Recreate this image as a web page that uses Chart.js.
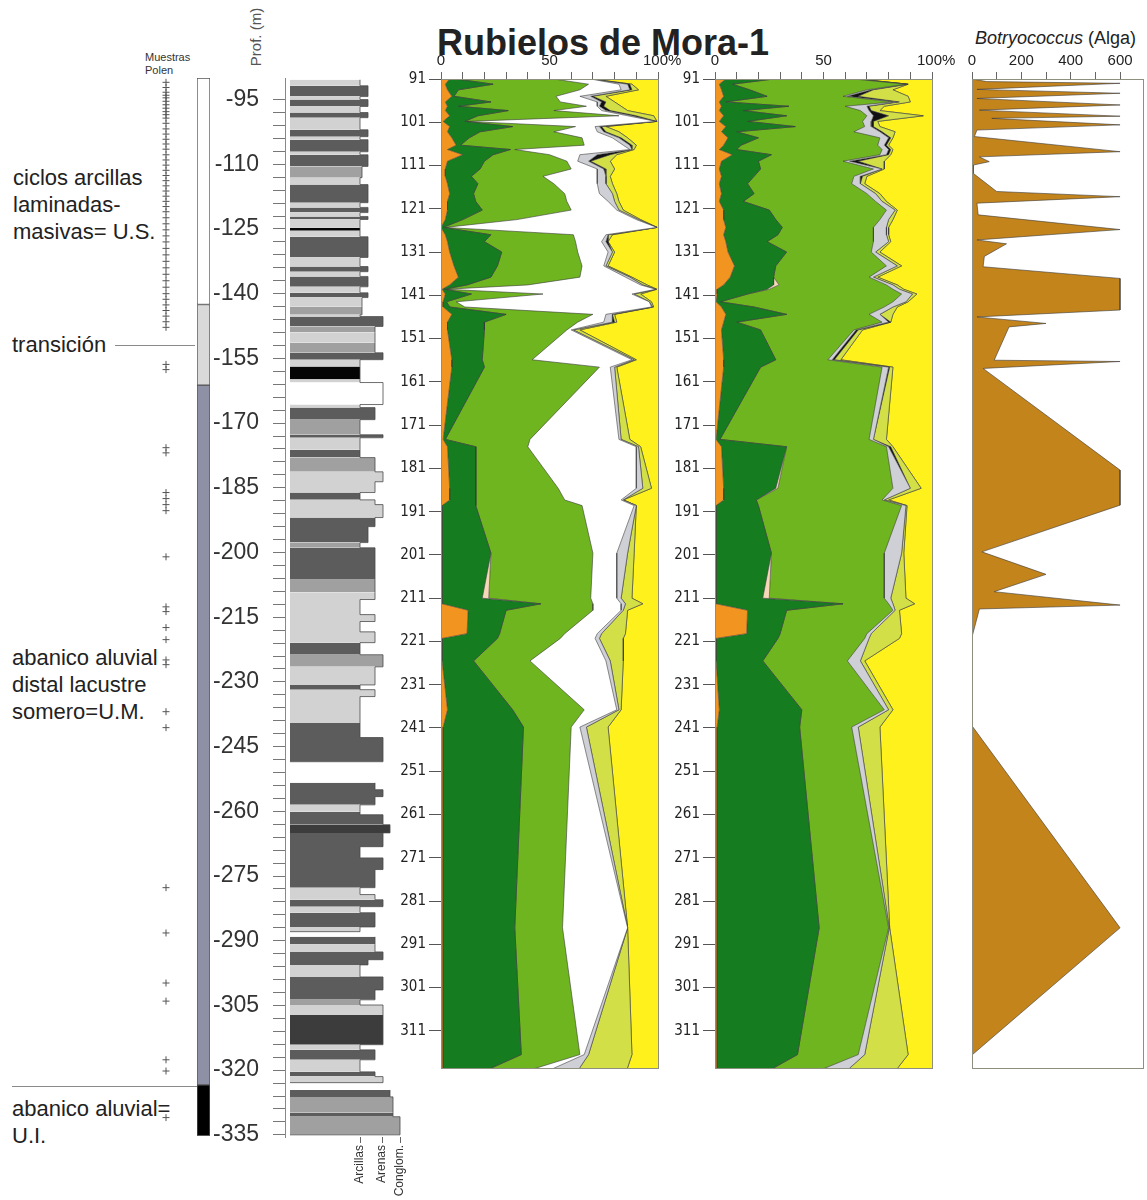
<!DOCTYPE html>
<html lang="es">
<head>
<meta charset="utf-8">
<title>Rubielos de Mora-1</title>
<script src="https://cdn.jsdelivr.net/npm/chart.js@4.4.1/dist/chart.umd.min.js"></script>
<style>
  html, body { margin: 0; padding: 0; background: #fff; }
  body { position: relative; width: 1147px; height: 1200px; overflow: hidden; font-family: "Liberation Sans", Arial, sans-serif; color: #222; }
  canvas { position: absolute; }
  .txt { position: absolute; white-space: nowrap; }
  .rule { position: absolute; height: 0; border-top: 1px solid #8a8a8a; }
</style>
</head>
<body>
<div class="txt" style="left:437px;top:25px;font-size:36px;line-height:36px;font-weight:bold;">Rubielos de Mora-1</div>
<div class="txt" style="left:975px;top:28px;font-size:18px;line-height:20px;"><i>Botryococcus</i> (Alga)</div>
<div class="txt" style="left:145px;top:51px;font-size:11px;line-height:13px;color:#333;">Muestras<br>Polen</div>
<div class="txt" style="left:216px;top:28px;width:80px;height:18px;font-size:15px;line-height:18px;text-align:center;color:#555;transform:rotate(-90deg);">Prof. (m)</div>

<div class="txt" style="left:13px;top:164px;font-size:22px;line-height:27px;">ciclos arcillas<br>laminadas-<br>masivas= U.S.</div>
<div class="txt" style="left:12px;top:331px;font-size:22px;line-height:27px;">transición</div>
<div class="rule" style="left:115px;top:345px;width:80px;"></div>
<div class="txt" style="left:12px;top:644px;font-size:22px;line-height:27px;">abanico aluvial<br>distal lacustre<br>somero=U.M.</div>
<div class="rule" style="left:12px;top:1086px;width:185px;"></div>
<div class="txt" style="left:12px;top:1095px;font-size:22px;line-height:27px;">abanico aluvial=<br>U.I.</div>

<canvas id="muestras" width="50" height="1200" style="left:141px;top:0"></canvas>
<canvas id="zonas" width="30" height="1200" style="left:190px;top:0"></canvas>
<canvas id="litologia" width="220" height="1200" style="left:200px;top:0"></canvas>
<canvas id="polen1" width="290" height="1035" style="left:401px;top:45px"></canvas>
<canvas id="polen2" width="290" height="1035" style="left:675px;top:45px"></canvas>
<canvas id="botryo" width="197" height="1035" style="left:950px;top:45px"></canvas>

<script>
// ---- profundidad de las muestras de polen (m) ----
const polDepth = [91.0, 92.2, 93.5, 95.0, 96.3, 97.3, 98.3, 99.5, 100.8, 102.0,
  103.2, 104.6, 106.3, 107.3, 108.5, 110.0, 111.8, 113.5, 115.2, 117.5,
  119.3, 121.3, 123.5, 125.3, 127.0, 128.6, 131.0, 134.2, 136.8, 138.6,
  139.6, 140.7, 142.5, 143.7, 145.4, 147.2, 149.0, 155.9, 157.6, 174.3,
  176.0, 185.6, 188.3, 189.6, 200.6, 211.0, 212.3, 213.8, 219.2, 220.3,
  225.5, 236.8, 240.8, 287.2, 316.5, 321.0];

// diagrama 1: límites acumulados (%)
const c1Orange = [4,2,3,5,2,3,2,4,1,4, 3,5,7,3,10,3,2,2,3,4, 3,3,2,0,2,3,4,6,8,4,
  0.5,2,1,1,5,3,3,5,5,1, 3,4,4,0.5,0.5,0.5,0.5,12.5,12,0.5, 0.5,3,1,1,1,1];
const c1DarkGreen = [7,24,8,6,23,8,31,17,11,33, 18,13,9,32,24,20,18,14,17,15, 16,19,10,1,23,20,28,26,23,12,
  1.5,14,2.5,4,30,20,20,19,20,2, 16,16,16,16,23,19,46,30,27,26, 15,33,38,34,37,17];
const c1Beige = [7,24,8,6,23,8,31,17,11,33, 18,13,9,32,24,20,18,14,17,15, 16,19,10,1,23,20,28,26,23,12,
  1.5,14,2.5,4,30,20,20,19,20,2, 16,16,16,16,23,22,46,30,27,26, 15,33,38,34,37,17];
const c1LightGreen = [52,68,64,53,55,67,52,82,12,62, 52,65,66,34,50,58,60,47,52,57, 58,60,35,2,61,62,63,65,64,40,
  2.5,47,7,11,70,63,58,42,73,41, 40,54,57,65,70,69,70,70,57,55, 41,66,60,56,64,35];
const c1White = [69,82,83,64,72,72,74,86,99,71, 72,79,84,87,64,63,72,72,72,73, 77,81,90,99.5,76,74,77,75,85,92,
  99,88,96,97,76,75,60,88,78,82, 90,90,83,89,81,81,83,83,72,71, 76,81,64,86,66,46];
const c1Gray = [69,86,87,69,74,73,76,88,99,73, 75,82,87,88,72,68,75,76,76,79, 80,82,91,99.5,77,76,79,76,87,93,
  99,89,96,97.5,79,79,61,89,80,83, 91,93,84,90,86,83,85,84,74,73, 78,82,67,86,68,62];
const c1Black = [69,87,88,70,76,75,78,90,99.5,74, 76,83,88,88,78,69,76,76,76,79, 80,82,91,99.5,77,77,79,76,87,93,
  99,89,96,97.5,79,80,61,89,80,83, 91,93,84,90,86,83,85,84,74,73, 78,82,67,86,68,62];
const c1YellowGreen = [70,88,91,76,80,83,86,98,99.5,76, 82,86,90,89,81,78,80,78,79,81, 82,84,92,99.6,79,77,80,77,88,95,
  99.5,92,97,98,80,81,64,90,81,87, 92,97,84,90,89,88,93,86,85,84, 84,83,77,86,88,85];

// diagrama 2: límites acumulados (%)
const c2Orange = [5,2,3,4,2,3,2,4,2,5, 3,6,4,2,8,3,2,3,2,3, 2,4,4,5,4,5,6,9,7,4,
  1,1,0.5,3,5,4,3,4,4,0.5, 3,4,4,0.5,0.5,0.5,0.5,15,14.6,0.5, 0.5,2,1,1,1,1];
const c2DarkGreen = [27,8,16,24,5,34,13,33,15,37, 10,20,12,10,26,20,21,18,15,18, 13,25,28,31,29,24,33,28,27,27,
  24,15,2.5,18,33,10,21,28,21,2.3, 33,28,19,20,26,22,59,33,30,29, 22,40,39,48,38,22];
const c2Beige = [27,8,16,24,5,34,13,33,15,37, 10,20,12,10,26,20,21,18,15,18, 13,25,28,31,29,24,33,28,27,29.5,
  25,15,2.5,18,33,10,21,28,21,2.3, 33,29,19,20,26,25,59,33,30,29, 22,40,39,48,38,22];
const c2LightGreen = [64,88,70,59,82,60,67,70,68,69, 64,76,75,77,76,59,73,64,63,70, 74,79,76,73,73,73,72,79,71,79,
  82,86,82,78,71,77,64,52,77,71, 79,82,77,86,78,78,80,82,70,69, 61,78,63,80,66,44];
const c2Gray = [65,88.5,72,61,84,70,71,73,72,72, 76,80,78,80,79,62,77,67,67,74, 77,83,80,79,79,80,74,84,73,82,
  85,91,88,82,76,80,65,54,80,73, 80,90,78,88,86,81,82,83,72,71, 67,80,66,80.3,69,59];
const c2Black = [65,89,73,66,85,71,72,80,73,73, 77,81,79,81,80,66,77,68,67,74, 77,83,80,79,79,80,74,84,73,82,
  85,91,88,82,76,81,66,55,80.5,73, 81,90,78,88,86,81,82,83,72,71, 67,80,66,80.3,69,59];
const c2YellowGreen = [66,89,82,89,90,78,76,96,75,76, 83,82,80,82,81,78,78,70,69,76, 79,84,82,80,80,81,76,86,75,84,
  87,93,89,84,82,81,68,58,82,79, 82,95,80,88.5,87,88,92,85,86,85, 69,82,76,80.5,89,82];

// Botryococcus (nº de colonias)
const botDepth = [91, 91.6, 92.0, 93.4, 94.3, 95.5, 97.0, 98.2, 99.6, 100.1,
  101.6, 102.8, 104.3, 107.8, 109.0, 110.1, 110.9, 112.8, 117.0, 118.2,
  119.7, 122.4, 125.8, 128.2, 129.1, 132.0, 134.4, 137.1, 144.4, 146.0,
  147.5, 148.3, 156.0, 156.3, 157.9, 181.4, 189.5, 200.3, 205.5, 209.5,
  212.6, 213.5, 220.0, 240.5, 287.2, 316.6, 321.0];
const botVal = [0, 60, 600, 20, 600, 20, 600, 30, 600, 80,
  600, 20, 10, 600, 30, 70, 5, 5, 100, 600,
  20, 25, 600, 20, 140, 50, 45, 600, 600, 20,
  300, 150, 90, 600, 45, 600, 600, 40, 300, 90,
  600, 30, 0, 0, 600, 0, 0];

// ejes
const depthTicks = [91,101,111,121,131,141,151,161,171,181,191,201,211,221,231,241,251,261,271,281,291,301,311];
const pctTicks = [0,10,20,30,40,50,60,70,80,90,100];
const pctLabels = ['0','','','','','50','','','','','100%'];
const botTicks = [0,100,200,300,400,500,600];
const botLabels = ['0','','200','','400','','600'];
const profLabels = [-95,-110,-125,-140,-155,-170,-185,-200,-215,-230,-245,-260,-275,-290,-305,-320,-335];

// litología: techo de cada capa (m), tamaño de grano y facies
const litTop = [-90.4,-91.8,-94.3,-95.0,-96.6,-98.0,-99.2,-102.0,-103.6,-104.3,
  -107.1,-107.8,-110.5,-113.1,-114.7,-118.9,-120.0,-121.2,-122.1,-122.8,
  -124.7,-125.4,-126.8,-131.6,-133.7,-134.9,-136.0,-138.4,-139.8,-140.9,
  -143.0,-144.9,-145.3,-147.6,-149.0,-151.4,-153.7,-155.3,-156.9,-159.9,
  -160.6,-165.7,-166.4,-169.2,-172.7,-173.4,-176.2,-178.0,-181.3,-183.6,
  -186.1,-187.8,-188.9,-191.9,-194.0,-197.7,-198.9,-206.3,-209.3,-210.9,
  -214.4,-216.0,-218.4,-220.9,-223.7,-226.5,-230.7,-231.8,-233.4,-239.5,
  -242.9,-248.5,-253.4,-255.0,-256.6,-258.5,-260.1,-260.8,-263.1,-265.0,
  -268.2,-270.8,-273.5,-277.7,-279.3,-280.5,-282.1,-283.5,-286.8,-287.9,
  -289.1,-290.9,-292.6,-294.4,-295.6,-298.4,-301.4,-303.7,-304.9,-307.2,
  -314.1,-315.3,-317.6,-320.4,-321.5,-322.9,-324.6,-326.2,-329.9,-330.8,
  -335.0];
const litGrain = [70,78,70,78,70,78,70,78,70,78,
  70,78,72,70,78,70,78,70,78,70,
  70,70,78,70,78,70,78,70,78,72,
  72,70,93,85,85,85,93,70,70,70,
  93,70,85,70,93,70,70,85,93,85,
  70,85,93,85,78,70,85,85,85,70,
  85,70,85,70,93,85,70,85,70,70,
  93,0,85,93,85,70,70,93,100,93,
  70,93,85,70,85,93,70,85,70,0,
  85,85,93,78,70,93,85,70,93,93,
  70,85,70,85,93,0,100,103,103,110,
  0];
// 0 hueco, 1 blanco, 2 gris claro, 3 gris medio, 4 gris oscuro, 5 muy oscuro, 6 negro
const litFacies = [2,4,2,4,2,4,2,4,2,4,
  2,4,3,2,4,2,4,2,4,2,
  6,2,4,2,4,2,4,2,4,2,
  3,2,4,3,2,3,4,2,6,2,
  1,2,4,3,4,2,4,3,2,2,
  4,2,2,4,4,3,4,3,2,2,
  2,2,2,4,3,2,4,2,2,4,
  4,0,4,4,4,2,4,4,5,4,
  4,4,4,2,2,4,2,4,2,0,
  4,2,4,4,2,4,4,3,2,5,
  2,4,2,4,2,0,4,3,4,3,
  0];
const grainTicks = [70, 92, 110];
const grainLabels = ['Arcillas', 'Arenas', 'Conglom.'];

// unidades
const zoneTop = [-90, -142.5, -161.2, -323.4];
const zoneBase = [-142.5, -161.2, -323.4, -335.2];

// muestras de polen
const polenSamples = [-91.0,-92.2,-93.3,-94.0,-94.6,-95.4,-96.2,-97.0,-97.8,-98.5,
  -99.3,-100.5,-101.8,-103.0,-104.2,-105.3,-106.5,-107.8,-109.0,-110.2,
  -111.4,-112.6,-113.8,-115.0,-116.2,-117.4,-118.6,-119.8,-121.0,-122.4,
  -123.8,-125.2,-126.6,-128.0,-129.5,-131.0,-132.5,-134.0,-135.5,-137.0,
  -138.5,-140.0,-141.3,-142.6,-143.9,-145.2,-146.5,-147.8,-156.4,-157.6,
  -175.7,-176.9,-186.1,-187.5,-188.9,-190.3,-201.0,-212.6,-213.7,-217.4,
  -220.2,-224.9,-226.0,-236.9,-240.6,-277.7,-288.2,-299.8,-304.0,-317.6,
  -320.2,-331.0];

// ---- estilos ----
const COL = {
  orange: '#f29420', darkGreen: '#167c20', beige: '#f5d8b8', lightGreen: '#6fb51f',
  white: '#ffffff', gray: '#cfd0d6', black: '#111111', yellowGreen: '#d3df46', yellow: '#fff21c'
};
const faciesColor = ['rgba(0,0,0,0)', '#ffffff', '#d2d2d2', '#a0a0a0', '#5c5c5c', '#3c3c3c', '#050505'];
const zoneFill = ['#ffffff', '#d9d9d9', '#8e90a6', '#000000'];
const narrow = "'Liberation Sans Narrow', 'DejaVu Sans Condensed', 'Liberation Sans', sans-serif";
const frameColor = '#8f8f80';

Chart.defaults.font.family = "'Liberation Sans', Arial, sans-serif";
Chart.defaults.font.size = 14;
Chart.defaults.color = '#222';
Chart.defaults.animation = false;
Chart.defaults.events = [];
Chart.defaults.plugins.legend.display = false;
Chart.defaults.plugins.tooltip.enabled = false;

function frameAxis(pos) {
  return {
    type: 'linear', position: pos, display: true,
    grid: { display: false }, ticks: { display: false },
    border: { display: true, color: frameColor, width: 1, z: 1 },
    afterFit: s => { if (s.isHorizontal()) s.height = 0; else s.width = 0; }
  };
}

function pollenChart(id, edges, colors) {
  const datasets = edges.map((edge, i) => ({
    data: polDepth.map((d, k) => ({ x: edge[k], y: d })),
    backgroundColor: colors[i],
    fill: i === 0 ? 'origin' : '-1'
  }));
  // amarillo: del último límite al 100 %
  const last = edges[edges.length - 1];
  datasets.push({
    data: polDepth.map((d, k) => ({ x: last[k], y: d })),
    backgroundColor: COL.yellow,
    fill: { value: 100 }
  });

  new Chart(document.getElementById(id), {
    type: 'line',
    data: { datasets },
    options: {
      responsive: false,
      indexAxis: 'y',
      layout: { padding: { right: 33, bottom: 12 } },
      elements: {
        point: { radius: 0 },
        line: { tension: 0, borderWidth: 0.6, borderColor: '#3a3a3a' }
      },
      scales: {
        x: {
          type: 'linear', position: 'top', min: 0, max: 100,
          afterBuildTicks: s => { s.ticks = pctTicks.map(v => ({ value: v })); },
          ticks: {
            autoSkip: false, maxRotation: 0, padding: 2, font: { size: 15 },
            callback: (v, i) => i === pctTicks.length - 1 ? '\u00a0\u00a0' + pctLabels[i] : pctLabels[i]
          },
          grid: { drawOnChartArea: false, tickLength: 7, color: '#666' },
          border: { color: frameColor, z: 1 },
          afterFit: s => { s.height = 34; }
        },
        y: {
          type: 'linear', reverse: true, min: 91, max: 319.6,
          afterBuildTicks: s => { s.ticks = depthTicks.map(v => ({ value: v })); },
          ticks: { autoSkip: false, padding: 3, font: { family: narrow, size: 15 } },
          grid: { drawOnChartArea: false, tickLength: 12, color: '#555' },
          border: { color: frameColor, z: 1 },
          afterFit: s => { s.width = 40; }
        },
        x2: frameAxis('bottom'),
        y2: frameAxis('right')
      }
    }
  });
}

pollenChart('polen1',
  [c1Orange, c1DarkGreen, c1Beige, c1LightGreen, c1White, c1Gray, c1Black, c1YellowGreen],
  [COL.orange, COL.darkGreen, COL.beige, COL.lightGreen, COL.white, COL.gray, COL.black, COL.yellowGreen]);

pollenChart('polen2',
  [c2Orange, c2DarkGreen, c2Beige, c2LightGreen, c2Gray, c2Black, c2YellowGreen],
  [COL.orange, COL.darkGreen, COL.beige, COL.lightGreen, COL.gray, COL.black, COL.yellowGreen]);

// Botryococcus
new Chart(document.getElementById('botryo'), {
  type: 'line',
  data: { datasets: [{
    data: botDepth.map((d, k) => ({ x: botVal[k], y: d })),
    backgroundColor: '#c4841c', borderColor: '#3a3a3a', borderWidth: 0.6,
    fill: 'origin', pointRadius: 0, tension: 0
  }] },
  options: {
    responsive: false,
    indexAxis: 'y',
    layout: { padding: { right: 4, bottom: 12 } },
    scales: {
      x: {
        type: 'linear', position: 'top', min: 0, max: 693,
        afterBuildTicks: s => { s.ticks = botTicks.map(v => ({ value: v })); },
        ticks: { autoSkip: false, maxRotation: 0, padding: 2, font: { size: 15 }, callback: (v, i) => botLabels[i] },
        grid: { drawOnChartArea: false, tickLength: 7, color: '#666' },
        border: { color: frameColor, z: 1 },
        afterFit: s => { s.height = 34; }
      },
      y: {
        type: 'linear', reverse: true, min: 91, max: 319.6,
        ticks: { display: false }, grid: { display: false },
        border: { color: frameColor, z: 1 },
        afterFit: s => { s.width = 22; }
      },
      x2: frameAxis('bottom'),
      y2: frameAxis('right')
    }
  }
});

// Litología y eje de profundidad
new Chart(document.getElementById('litologia'), {
  type: 'line',
  data: { datasets: [{
    data: litTop.map((d, i) => ({ x: litGrain[i], y: d })),
    stepped: 'after', fill: 'origin', tension: 0, pointRadius: 0,
    backgroundColor: '#a0a0a0', borderColor: '#4a4a4a', borderWidth: 0.8,
    segment: {
      backgroundColor: c => faciesColor[litFacies[c.p0DataIndex]],
      borderColor: c => litFacies[c.p0DataIndex] === 0 ? 'rgba(0,0,0,0)' : '#4a4a4a'
    }
  }] },
  options: {
    responsive: false,
    indexAxis: 'y',
    layout: { padding: { top: 78, right: 12 } },
    scales: {
      x: {
        type: 'linear', position: 'bottom', min: -5, max: 118,
        afterBuildTicks: s => { s.ticks = grainTicks.map(v => ({ value: v })); },
        ticks: { autoSkip: false, minRotation: 90, maxRotation: 90, padding: 2,
                 font: { size: 12 }, color: '#333', callback: (v, i) => grainLabels[i] },
        grid: { drawOnChartArea: false, tickLength: 6, color: '#666' },
        border: { display: false },
        afterFit: s => { s.height = 63; }
      },
      y: {
        type: 'linear', min: -335.5, max: -90,
        afterBuildTicks: s => {
          const t = [];
          for (let v = -95; v >= -335; v -= 3) t.push({ value: v });
          s.ticks = t;
        },
        ticks: { autoSkip: false, padding: 14, font: { size: 23 }, color: '#333',
                 callback: v => profLabels.includes(v) ? String(v) : '' },
        grid: { drawOnChartArea: false, tickLength: 12, color: '#777' },
        border: { color: '#888' },
        afterFit: s => { s.width = 85; }
      }
    }
  }
});

// Unidades
new Chart(document.getElementById('zonas'), {
  type: 'bar',
  data: {
    labels: ['Unidad'],
    datasets: zoneTop.map((t, i) => ({
      data: [[zoneBase[i], t]],
      backgroundColor: zoneFill[i], borderColor: '#555', borderWidth: 1,
      borderSkipped: false, grouped: false, barPercentage: 1, categoryPercentage: 1
    }))
  },
  options: {
    responsive: false,
    layout: { padding: { top: 78, bottom: 63, left: 7, right: 10 } },
    scales: {
      x: { display: false },
      y: { display: false, min: -335.5, max: -90 }
    }
  }
});

// Muestras de polen
new Chart(document.getElementById('muestras'), {
  type: 'line',
  data: {
    labels: ['Muestras'],
    datasets: [{
      data: polenSamples.map(d => ({ x: 'Muestras', y: d })),
      showLine: false, pointStyle: 'cross', pointRadius: 3.5,
      pointBorderColor: '#555', pointBorderWidth: 1
    }]
  },
  options: {
    responsive: false,
    layout: { padding: { top: 78, bottom: 63 } },
    scales: {
      x: { type: 'category', offset: true, display: false },
      y: { type: 'linear', display: false, min: -335.5, max: -90 }
    }
  }
});
</script>
</body>
</html>
